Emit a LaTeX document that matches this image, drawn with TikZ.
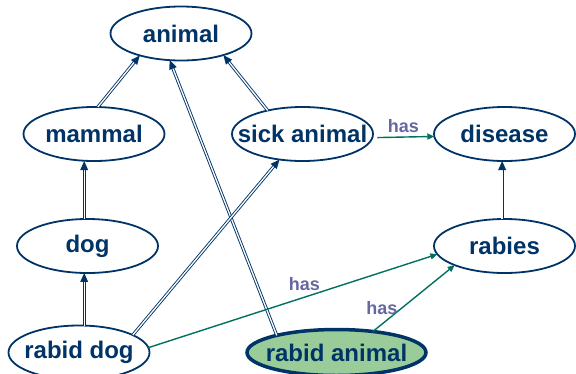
\documentclass[tikz,border=0pt]{standalone}
\usepackage{fontspec}
\setmainfont{Liberation Sans}
\usetikzlibrary{arrows.meta, positioning, shapes.geometric, decorations.markings}
\definecolor{navy}{RGB}{0,51,102}
\definecolor{hasgreen}{RGB}{0,112,96}
\definecolor{haspurple}{RGB}{102,102,160}
\definecolor{rabidfill}{RGB}{153,204,153}
\tikzset{
  semnet/.style={
	x=1pt, y=-1pt, % pixel-like units, y going down
	node distance=100pt, % distance between the centres of two nodes
	concept/.style={ellipse, draw=navy, line width=1.8pt, minimum width=141pt, minimum height=54pt,
	  inner xsep=-25pt, inner ysep=0pt, outer sep=0pt, text=navy,
	  font=\fontsize{24}{28}\selectfont\bfseries}, % every ellipse, size fixed by the minimum
	isa/.style={draw=navy, double=white, double distance=1.3pt, line width=0.9pt, shorten >=7pt,
	  postaction={decorate, decoration={markings, mark=at position 1 with
		{\fill[navy] (0pt,0pt) -- (-9pt,4pt) -- (-9pt,-4pt) -- cycle;}}}}, % the hollow is-a links
	has/.style={draw=hasgreen, line width=1.4pt, -{Triangle[length=7pt, width=6pt]}}, % the has links
	haslabel/.style={text=haspurple, font=\fontsize{18}{20}\selectfont\bfseries}, % text on a has link
  }
}
\begin{document}
\begin{tikzpicture}[semnet]
	  \useasboundingbox (0,0) rectangle (576,373);
	  \node[concept] at (181,33.5) (animal) {animal};
	  \node[concept, below of=animal, yshift=-0.5pt, xshift=-87pt] (mammal) {mammal};
	  \node[concept, right of=mammal, yshift=0pt, xshift=108.5pt] (sick) {sick animal};
	  \node[concept, right of=sick, yshift=0pt, xshift=102pt] (disease) {disease};
	  \node[concept, below of=mammal, yshift=-12pt, xshift=-6.5pt] (dog) {dog};
	  \node[concept, below of=disease, yshift=-12pt, xshift=0pt] (rabies) {rabies};
	  \node[concept, below of=dog, yshift=-6.5pt, xshift=-8.5pt] (rabiddog) {rabid dog};
	  \node[concept, right of=rabiddog, yshift=0pt, xshift=157.5pt, minimum width=179pt, minimum height=46pt,
		line width=3.5pt, fill=rabidfill] (rabidanimal) {rabid animal};
	  \draw   (mammal.82) edge[isa] (animal.208)
		  (sick.146) edge[isa] (animal.333)
		  (rabidanimal.164) edge[isa] (animal.247)
		  (dog.97) edge[isa] (dog.97 |- mammal.south)
		  (rabiddog.north -| dog.97) edge[isa] (dog.263)
		  (rabiddog.18) edge[isa] (sick.228)
		  (rabies.95) edge[isa] (rabies.95 |- disease.south)
		  (sick.-3) edge[has, shorten <=5pt] node[haslabel, above] {has} (disease.182)
		  (rabiddog.4) edge[has] node[haslabel, pos=0.54, above, yshift=3pt] {has} (rabies.187)
		  (rabidanimal.30) edge[has] node[haslabel, pos=0.35, left] {has} (rabies.201)
	  ;
\end{tikzpicture}
\end{document}
